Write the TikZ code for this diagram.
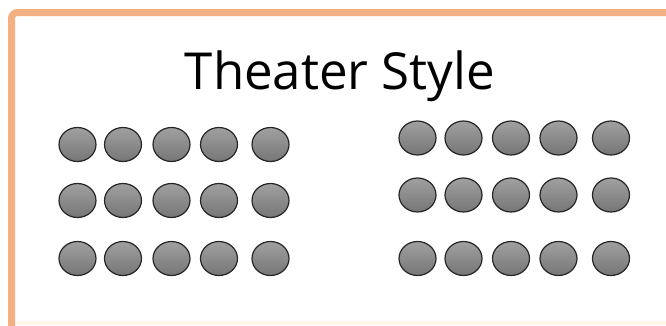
\documentclass[tikz,border=0pt]{standalone}
\usepackage{fontspec}
\usepackage{tikz}
\usetikzlibrary{shapes.geometric}
\newfontfamily\titlefont{Open Sans}
\definecolor{frame}{HTML}{F2B083}
\definecolor{cream}{HTML}{FFF6EA}
\definecolor{seattop}{HTML}{A0A0A0}
\definecolor{seatbot}{HTML}{767676}

\begin{document}
\begin{tikzpicture}[x=1pt,y=-1pt,
  seat/.style={ellipse, draw=black!85, line width=1.2pt, minimum width=37pt, minimum height=34pt, inner sep=0pt, top color=seattop, bottom color=seatbot},
  title/.style={anchor=base, font=\titlefont\fontsize{51}{60}\selectfont, text=black}]
\useasboundingbox (0,0) rectangle (666,325);
\clip (0,0) rectangle (666,325);
% ----- frame
\fill[white] (0,0) rectangle (666,325);
\fill[cream] (15,321) rectangle (666,325);
\draw[frame, line width=7pt, rounded corners=6pt] (680,12.5) -- (11.5,12.5) -- (11.5,340);
% ----- title
\node[title] (title) at (340,89) {Theater Style};
% ----- left block of seats
\foreach \r/\y in {1/144.5, 2/200.5, 3/258.5}
  \foreach \c/\x in {1/77.5, 2/123, 3/171.5, 4/219, 5/270.5}
    \node[seat] (L\r\c) at (\x,\y) {};
% ----- right block of seats
\foreach \r/\y in {1/138, 2/195, 3/258.5}
  \foreach \c/\x in {1/417.5, 2/463.5, 3/511, 4/558.5, 5/611}
    \node[seat] (R\r\c) at (\x,\y) {};
\end{tikzpicture}
\end{document}
